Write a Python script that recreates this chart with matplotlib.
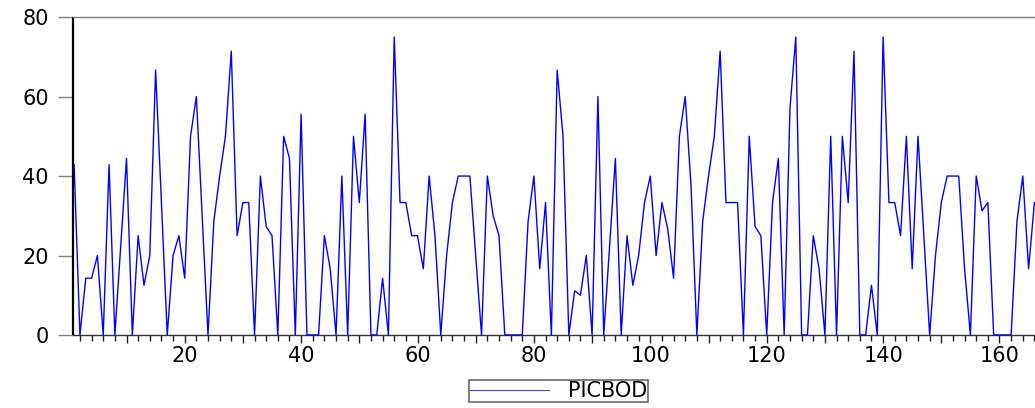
import matplotlib.pyplot as plt
import numpy as np
from matplotlib.ticker import MultipleLocator, FuncFormatter

# PICBOD observations 1..166
obs = list(range(1, 167))
picbod = [
    42.86, 0, 14.29, 14.29, 20, 0, 42.86, 0, 22.22, 44.44,
    0, 25, 12.5, 20, 66.67, 33.33, 0, 20, 25, 14.29,
    50, 60, 30, 0, 28.57, 40, 50, 71.43, 25, 33.33,
    33.33, 0, 40, 27.27, 25, 0, 50, 44.44, 0, 55.56,
    0, 0, 0, 25, 16.67, 0, 40, 0, 50, 33.33,
    55.56, 0, 0, 14.29, 0, 75, 33.33, 33.33, 25, 25,
    16.67, 40, 25, 0, 20, 33.33, 40, 40, 40, 20,
    0, 40, 30, 25, 0, 0, 0, 0, 28.57, 40,
    16.67, 33.33, 0, 66.67, 50, 0, 11.11, 10, 20, 0,
    60, 0, 22.22, 44.44, 0, 25, 12.5, 20, 33.33, 40,
    20, 33.33, 26.67, 14.29, 50, 60, 37.5, 0, 28.57, 40,
    50, 71.43, 33.33, 33.33, 33.33, 0, 50, 27.27, 25, 0,
    33.33, 44.44, 0, 57.14, 75, 0, 0, 25, 16.67, 0,
    50, 0, 50, 33.33, 71.43, 0, 0, 12.5, 0, 75,
    33.33, 33.33, 25, 50, 16.67, 50, 25, 0, 20, 33.33,
    40, 40, 40, 16.67, 0, 40, 31.25, 33.33, 0, 0,
    0, 0, 28.57, 40, 16.67, 33.33,
]
ytick_vals = [0, 20, 40, 60, 80]

fig = plt.figure(figsize=(10.35, 4.08), dpi=100)
ax = fig.add_axes([0.0705, 0.179, 0.9295, 0.779])

ax.plot(obs, picbod, color='#0000ff', linewidth=1.0, label='PICBOD',
        clip_on=False, zorder=5)

ax.set_xlim(0.8, 166.1)
ax.set_ylim(0, 80)

# spines: heavy left axis, thin grey top, no right
ax.spines['left'].set_linewidth(1.6)
ax.spines['left'].set_color('black')
ax.spines['left'].set_capstyle('butt')
ax.spines['bottom'].set_linewidth(1.0)
ax.spines['bottom'].set_color('#333333')
ax.spines['top'].set_linewidth(1.0)
ax.spines['top'].set_color('#808080')
ax.spines['right'].set_visible(False)

ax.set_yticks(ytick_vals)
ax.tick_params(axis='y', direction='out', length=10.5, width=1.0,
               color='#808080', labelsize=15, pad=7)

ax.xaxis.set_major_locator(MultipleLocator(10))
ax.xaxis.set_minor_locator(MultipleLocator(2))
ax.xaxis.set_major_formatter(FuncFormatter(
    lambda v, p: '%d' % v if int(round(v)) % 20 == 0 else ''))
ax.tick_params(axis='x', which='major', direction='out', length=6,
               width=1.0, color='#222222', labelsize=15, pad=2)
ax.tick_params(axis='x', which='minor', direction='out', length=4,
               width=1.0, color='#222222')

leg = ax.legend(loc='upper center', bbox_to_anchor=(0.505, -0.142),
                fontsize=15, frameon=True, fancybox=False,
                handlelength=3.8, handletextpad=0.9, borderpad=0.05,
                borderaxespad=0)
leg.get_frame().set_edgecolor('#444444')
leg.get_frame().set_linewidth(1.2)
for h in leg.legend_handles:
    h.set_linewidth(0.8)
    h.set_color('#4040ff')

plt.savefig('out.png', dpi=100)
